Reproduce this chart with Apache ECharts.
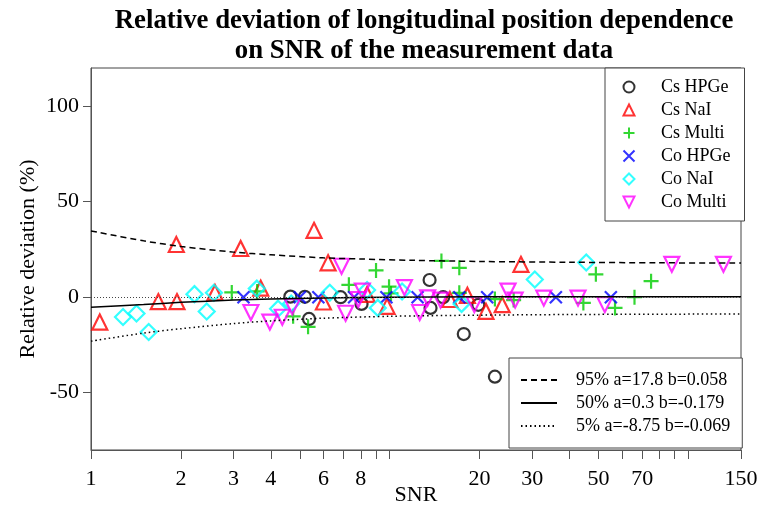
<!DOCTYPE html>
<html>
<head>
<meta charset="utf-8">
<title>Relative deviation vs SNR</title>
<script src="https://cdn.jsdelivr.net/npm/echarts@6/dist/echarts.min.js"></script>
<style>
  html, body { margin: 0; padding: 0; background: #fff; }
  #chart { width: 759px; height: 512px; }
</style>
</head>
<body>
<div id="chart"></div>
<script>
// [SNR, relative deviation %]
const csHPGe = [[4.65, 0.3], [5.2, 0.2], [5.37, -11.4], [6.85, 0], [8.05, -3.5], [13.6, 9], [13.7, -5.6], [15.1, 0], [17.7, -19.3], [19.8, -4], [22.5, -41.6]];
const csNaI = [[1.07, -13], [1.68, -2.3], [1.94, -2.3], [1.93, 27.6], [2.6, 2.5], [3.17, 25.5], [3.7, 4.7], [5.58, 35], [6.0, -2.5], [6.22, 18], [8.4, 1.5], [9.8, -4.8], [15.9, -1.2], [18.2, 1], [21, -7.4], [23.8, -3.9], [27.5, 17.2]];
const csMulti = [[2.96, 2.5], [3.6, 3], [4.75, -10], [5.33, -15.5], [7.3, 6.5], [9.0, 14], [9.95, 5.5], [10.1, 2], [14.9, 19], [17.1, 15.4], [17.1, 2.3], [22.5, -1], [26, -1.5], [44.5, -3], [49, 12], [56.8, -5.6], [66, 0], [75, 8.4]];
const coHPGe = [[3.24, 0], [5.0, 0], [5.77, 0], [7.6, 0], [9.75, 0], [12.4, 0], [17.1, 0], [21.2, 0], [36, 0], [55, 0]];
const coNaI = [[1.28, -10.4], [1.42, -8.5], [1.56, -18.2], [2.22, 1.6], [2.44, -7.5], [2.58, 2.3], [3.59, 4.5], [4.23, -6], [4.68, -3.3], [6.3, 2.3], [8.4, 3.8], [9.12, -5.6], [11, 3], [17.4, -3.5], [30.6, 9.3], [45.5, 18.2]];
const coMulti = [[3.43, -8], [3.97, -13], [4.37, -10.5], [4.72, -5], [6.9, 16.2], [7.12, -8.4], [7.85, -1.2], [8.1, 3.2], [11.2, 5], [12.6, -8], [13.4, -0.4], [14.8, -1.5], [19.2, -3.9], [24.9, 3.2], [26.3, -1.5], [32.8, -0.5], [42.7, -0.5], [52.5, -3.9], [88, 17.2], [131, 17.2]];

// quantile curves
const q95 = [[1, 34.7], [1.5, 29.5], [2, 26.6], [3, 23.6], [4, 22.2], [6, 20.6], [8, 20], [12, 19.3], [20, 18.7], [40, 18.3], [80, 18], [150, 17.9]];
const q50 = [[1, -5.2], [1.5, -3.8], [2, -2.7], [3, -1.5], [4, -1], [6, -0.4], [10, 0], [20, 0.2], [50, 0.3], [150, 0.3]];
const q05 = [[1, -23], [1.5, -18.8], [2, -16.5], [3, -13.8], [4, -12.4], [6, -11], [10, -10], [20, -9.4], [50, -9], [150, -8.8]];

const xTicks = [1, 2, 3, 4, 5, 6, 7, 8, 9, 10, 20, 30, 40, 50, 60, 70, 80, 90, 100, 150];
const xLabels = [1, 2, 3, 4, 6, 8, 20, 30, 50, 70, 150];
const yTicks = [-50, 0, 50, 100];

const font = 'Liberation Serif';
const pointNames = ['Cs HPGe', 'Cs NaI', 'Cs Multi', 'Co HPGe', 'Co NaI', 'Co Multi'];
const lineNames = ['95% a=17.8 b=0.058', '50% a=0.3 b=-0.179', '5% a=-8.75 b=-0.069'];

function pts(name, data, symbol, size, color) {
  return {
    name: name,
    type: 'scatter',
    data: data,
    symbol: symbol,
    symbolSize: size,
    itemStyle: { color: 'rgba(0,0,0,0)', borderColor: color, borderWidth: 2.2 }
  };
}

function curve(name, data, dash) {
  return {
    name: name,
    type: 'line',
    data: data,
    symbol: 'none',
    smooth: 0.3,
    itemStyle: { color: '#000' },
    lineStyle: { color: '#000', width: 1.5, type: dash }
  };
}

const chart = echarts.init(document.getElementById('chart'));
const option = {
  animation: false,
  title: {
    text: 'Relative deviation of longitudinal position dependence\non SNR of the measurement data',
    left: 424,
    top: 6,
    padding: 0,
    textAlign: 'center',
    textStyle: { fontFamily: font, fontSize: 26.8, fontWeight: 'bold', color: '#000', lineHeight: 30 }
  },
  grid: {
    left: 91, right: 18, top: 68, bottom: 62,
    outerBoundsMode: 'none',
    show: true, borderColor: '#444', borderWidth: 1
  },
  legend: [
    {
      data: pointNames,
      orient: 'vertical',
      left: 605,
      top: 68,
      padding: [10, 14, 10, 17.5],
      itemGap: 5,
      itemWidth: 11,
      itemHeight: 11,
      borderColor: '#444',
      borderWidth: 1,
      backgroundColor: '#fff',
      selectedMode: false,
      textStyle: { fontFamily: font, fontSize: 18, color: '#000', padding: [0, 0, 0, 21.5] }
    },
    {
      data: lineNames,
      orient: 'vertical',
      left: 509,
      top: 358,
      padding: [13, 12, 13, 11],
      itemGap: 5,
      itemWidth: 36,
      itemHeight: 12,
      borderColor: '#444',
      borderWidth: 1,
      backgroundColor: '#fff',
      selectedMode: false,
      itemStyle: { opacity: 0 },
      textStyle: { fontFamily: font, fontSize: 18, color: '#000', padding: [0, 0, 0, 14] }
    }
  ],
  xAxis: {
    type: 'log',
    logBase: 10,
    min: 1,
    max: 150,
    name: 'SNR',
    nameLocation: 'middle',
    nameGap: 34,
    nameMoveOverlap: false,
    nameTextStyle: { fontFamily: font, fontSize: 22, color: '#000' },
    axisLine: { show: true, onZero: false, lineStyle: { color: '#555' } },
    axisTick: { show: true, inside: false, length: 9, customValues: xTicks, lineStyle: { color: '#555' } },
    minorTick: { show: false },
    axisLabel: { customValues: xLabels, margin: 18, fontFamily: font, fontSize: 22, color: '#000' },
    splitLine: { show: false }
  },
  yAxis: {
    type: 'value',
    min: -80,
    max: 120,
    name: 'Relative deviation (%)',
    nameLocation: 'middle',
    nameGap: 52,
    nameMoveOverlap: false,
    nameTextStyle: { fontFamily: font, fontSize: 22, color: '#000' },
    axisLine: { show: true, onZero: false, lineStyle: { color: '#555' } },
    axisTick: { show: true, inside: false, length: 8, customValues: yTicks, lineStyle: { color: '#555' } },
    axisLabel: { customValues: yTicks, margin: 12, fontFamily: font, fontSize: 22, color: '#000' },
    splitLine: { show: false }
  },
  series: [
    Object.assign(pts('Cs HPGe', csHPGe, 'circle', 12, '#000'), {
      markLine: {
        silent: true,
        symbol: 'none',
        label: { show: false },
        lineStyle: { color: '#444', width: 1, type: [1, 2] },
        data: [{ yAxis: 0 }]
      }
    }),
    pts('Cs NaI', csNaI, 'triangle', 15, '#ff0000'),
    pts('Cs Multi', csMulti, 'path://M5,0L5,10M0,5L10,5', 15, '#00cd00'),
    pts('Co HPGe', coHPGe, 'path://M0,0L10,10M10,0L0,10', 12, '#0000ff'),
    pts('Co NaI', coNaI, 'diamond', 16, '#00ffff'),
    pts('Co Multi', coMulti, 'path://M0,0L10,0L5,10Z', 15, '#ff00ff'),
    curve(lineNames[0], q95, [6, 4]),
    curve(lineNames[1], q50, 'solid'),
    curve(lineNames[2], q05, [1.5, 3])
  ]
};
chart.setOption(option);
</script>
</body>
</html>
